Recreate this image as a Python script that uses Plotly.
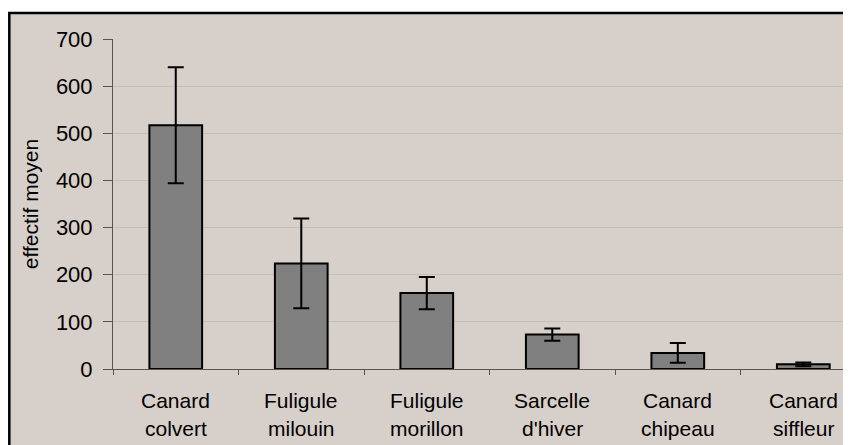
import plotly.graph_objects as go

line1 = ["Canard", "Fuligule", "Fuligule", "Sarcelle", "Canard", "Canard"]
line2 = ["colvert", "milouin", "morillon", "d'hiver", "chipeau", "siffleur"]
categories = [a + " " + b for a, b in zip(line1, line2)]
values = [517, 224, 161, 73, 34, 10]
errors = [123, 95, 34, 13, 21, 4]
yticks = [0, 100, 200, 300, 400, 500, 600, 700]

FONT = "Liberation Sans, Arial, sans-serif"
BG = "#D7CFC9"

fig = go.Figure()
fig.add_trace(go.Bar(
    x=categories, y=values,
    marker=dict(color="#808080", line=dict(color="black", width=2)),
    width=0.42,
    error_y=dict(type="data", array=errors, visible=True, color="black",
                 thickness=2, width=8),
))

annots = []
for c, a, b in zip(categories, line1, line2):
    annots.append(dict(x=c, y=-0.094, xref="x", yref="paper", text=a, showarrow=False,
                       yanchor="middle", font=dict(family=FONT, size=21, color="black")))
    annots.append(dict(x=c, y=-0.180, xref="x", yref="paper", text=b, showarrow=False,
                       yanchor="middle", font=dict(family=FONT, size=21, color="black")))

fig.update_layout(
    width=843, height=437,
    margin=dict(l=105, r=0, t=31, b=76),
    paper_bgcolor="white",
    plot_bgcolor="rgba(0,0,0,0)",
    showlegend=False,
    font=dict(family=FONT, color="black"),
    annotations=annots,
    shapes=[dict(type="rect", xref="paper", yref="paper",
                 x0=-0.1405, x1=1.2, y0=-0.3, y1=1.0788,
                 line=dict(color="black", width=2.5), fillcolor=BG, layer="below")],
    xaxis=dict(
        range=[-0.5, 5.38], showgrid=False, showticklabels=False,
        ticks="outside", tickson="boundaries", ticklen=5, tickcolor="#555",
        showline=True, linecolor="#555", linewidth=1, zeroline=False,
    ),
    yaxis=dict(
        range=[0, 700], tickvals=yticks, ticks="outside", ticklen=9, tickcolor="#555",
        showline=True, linecolor="#555", linewidth=1,
        showgrid=True, gridcolor="#C6BFB9", gridwidth=1, zeroline=False,
        tickfont=dict(family=FONT, size=22, color="black"),
        ticklabelstandoff=6,
        title=dict(text="effectif moyen", font=dict(family=FONT, size=21, color="black"), standoff=11),
    ),
)

fig.write_html("out.html")
